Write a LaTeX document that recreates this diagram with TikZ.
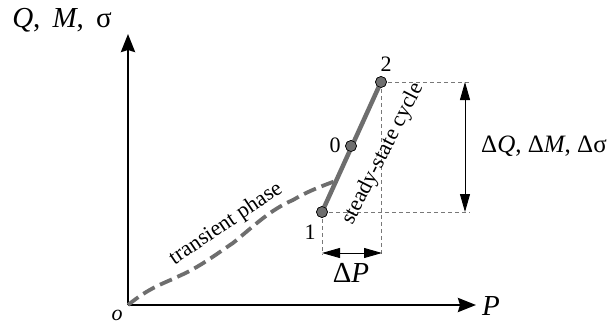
\documentclass[tikz,border=0pt]{standalone}
\usepackage{fontspec}
\setmainfont{Liberation Serif}
\usetikzlibrary{arrows.meta}
\definecolor{curvegray}{RGB}{110,110,110}
\definecolor{guidegray}{RGB}{120,120,120}
\begin{document}
\begin{tikzpicture}[x=1pt,y=1pt,
  axis/.style={line width=2.6pt,-{Stealth[length=18pt,width=14pt,inset=2pt]}},
  guide/.style={guidegray,line width=0.9pt,dash pattern=on 4pt off 3pt},
  dim/.style={line width=0.9pt,{Triangle[length=18pt,width=10pt]}-{Triangle[length=18pt,width=10pt]}},
  pt/.style={circle,draw=black,line width=0.6pt,fill=curvegray,inner sep=0pt,minimum size=11pt},
  lbl/.style={font=\fontsize{22}{26}\selectfont,inner sep=1pt},
  big/.style={font=\fontsize{29}{34}\selectfont,inner sep=0pt}]
\useasboundingbox (0,0) rectangle (613,325);
\coordinate (O) at (128,20);
\coordinate (ytip) at (128,291);
\coordinate (xtip) at (476,20);
\coordinate (c1) at (177,48);
\coordinate (c2) at (233,82);
\coordinate (c3) at (293,125);
\coordinate (jn) at (338,145);
\coordinate (b1) at (322,70);
\coordinate (b2) at (381,70);
\coordinate (h1) at (470,113);
\coordinate (h2) at (470,243);
\coordinate (d1) at (465,113);
\coordinate (d2) at (465,243);
\coordinate (p1) at (322,72);
\coordinate (p2) at (382,72);
% axes
\draw[axis] (O) -- (ytip);
\draw[axis] (O) -- (xtip);
% points
\node[pt] (n1) at (322,113) {};
\node[pt] (n0) at (351,179) {};
\node[pt] (n2) at (381,243) {};
% guides
\draw[guide] (n2.center) -- (h2);
\draw[guide] (n1.center) -- (h1);
\draw[guide] (n2.center) -- (b2);
\draw[guide] (n1.center) -- (b1);
% transient phase
\draw[curvegray,line width=3.8pt,dash pattern=on 13pt off 6pt]
  (O) .. controls (150,38) and (165,42) .. (c1)
      .. controls (200,58) and (215,70) .. (c2)
      .. controls (255,100) and (270,115) .. (c3)
      .. controls (310,135) and (325,140) .. (jn);
% steady-state cycle
\draw[curvegray,line width=4.5pt] (n1.center) -- (n2.center);
\node[pt] at (n1) {};
\node[pt] at (n0) {};
\node[pt] at (n2) {};
% dimension arrows
\draw[dim] (d1) -- (d2);
\draw[dim] (p1) -- (p2);
% labels
\node[big] (ylab) at (62,305) {\textit{Q},\, \textit{M},\, σ};
\node[big] (xlab) at (491,19) {\textit{P}};
\node[lbl] (olab) at (117,10) {\textit{o}};
\node[lbl] (l1) at (310,93) {1};
\node[lbl] (l0) at (335,180) {0};
\node[lbl] (l2) at (386,261) {2};
\node[big] (dp) at (351,52) {Δ\textit{P}};
\node[big,anchor=west,font=\fontsize{25}{30}\selectfont] (dq) at (481,179) {Δ\textit{Q}, Δ\textit{M}, Δσ};
\node[lbl,rotate=34] (tp) at (226,101) {transient phase};
\node[lbl,rotate=63] (sc) at (383,171) {steady-state cycle};
\end{tikzpicture}
\end{document}
